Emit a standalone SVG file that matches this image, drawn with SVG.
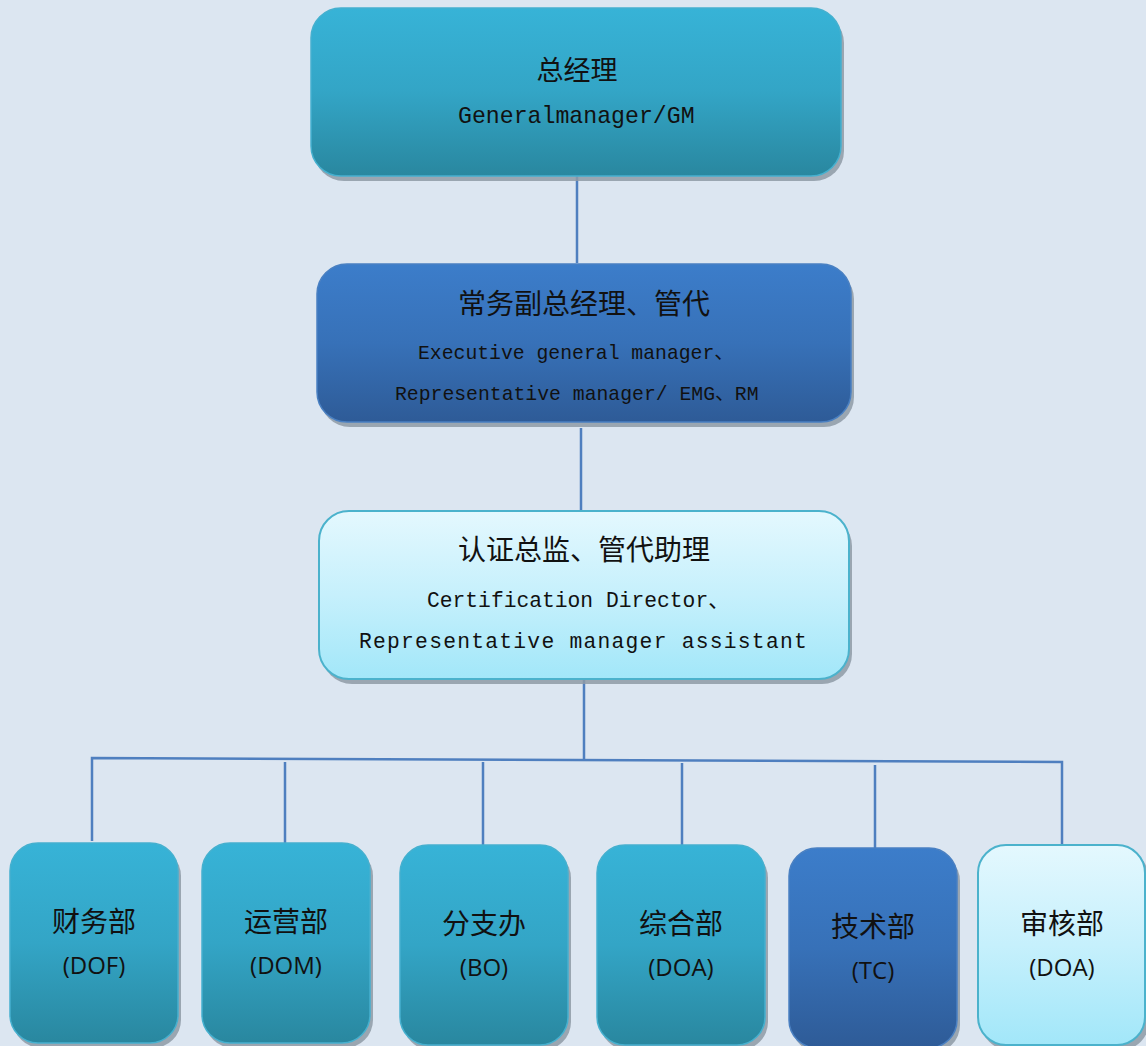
<svg xmlns="http://www.w3.org/2000/svg" width="1146" height="1046" viewBox="0 0 1146 1046">
<defs>
<linearGradient id="gTeal" x1="0" y1="0" x2="0" y2="1">
<stop offset="0" stop-color="#37b3d7"/><stop offset="0.5" stop-color="#33a5c6"/><stop offset="1" stop-color="#29879f"/>
</linearGradient>
<linearGradient id="gBlue" x1="0" y1="0" x2="0" y2="1">
<stop offset="0" stop-color="#3c7dca"/><stop offset="0.5" stop-color="#3771b8"/><stop offset="1" stop-color="#2e5b97"/>
</linearGradient>
<linearGradient id="gLight" x1="0" y1="0" x2="0" y2="1">
<stop offset="0" stop-color="#e4f8fe"/><stop offset="0.5" stop-color="#c6f0fc"/><stop offset="1" stop-color="#a2e7f9"/>
</linearGradient>
</defs>
<style>
.shadow{fill:#8e9aa6;opacity:0.85}
.teal{fill:url(#gTeal);stroke:#45b0cf;stroke-width:1.5}
.blue{fill:url(#gBlue);stroke:#4a80c2;stroke-width:1.5}
.light{fill:url(#gLight);stroke:#4bb2cc;stroke-width:2}
.cjk{font-family:"Noto Sans CJK SC",sans-serif;fill:#111;text-anchor:middle}
.cj{font-family:"Noto Sans CJK SC",sans-serif}
.mono{font-family:"Liberation Mono","DejaVu Sans Mono",monospace;fill:#111}
.lat{font-family:"Open Sans","Noto Sans","Liberation Sans",sans-serif;fill:#111;text-anchor:middle}
.conn{stroke:#4f7fbf;stroke-width:2.5;fill:none}
</style>
<rect width="1146" height="1046" fill="#dce6f1"/>
<g id="connectors">
<line class="conn" x1="577" y1="176" x2="577" y2="263"/>
<line class="conn" x1="581" y1="428" x2="581" y2="511"/>
<line class="conn" x1="584" y1="680" x2="584" y2="759"/>
<polyline class="conn" points="92,841 92,758 1062,762 1062,851"/>
<line class="conn" x1="285" y1="762" x2="285" y2="844"/>
<line class="conn" x1="483" y1="762" x2="483" y2="846"/>
<line class="conn" x1="682" y1="763" x2="682" y2="846"/>
<line class="conn" x1="875" y1="765" x2="875" y2="849"/>
</g>
<g id="gm">
<rect class="shadow" x="314" y="13" width="530" height="168" rx="30"/>
<rect class="teal" x="311" y="8" width="530" height="168" rx="30"/>
<text class="cjk" x="577" y="80" font-size="27">总经理</text>
<text class="mono" x="458" y="123" font-size="23.2">Generalmanager/GM</text>
</g>
<g id="emg">
<rect class="shadow" x="320" y="269" width="534" height="158" rx="30"/>
<rect class="blue" x="317" y="264" width="534" height="158" rx="30"/>
<text class="cjk" x="584" y="314" font-size="28">常务副总经理、管代</text>
<text class="mono" x="418" y="359" font-size="19.75">Executive general manager<tspan class="cj">、</tspan></text>
<text class="mono" x="395" y="400" font-size="19.75">Representative manager/ EMG<tspan class="cj">、</tspan>RM</text>
</g>
<g id="cd">
<rect class="shadow" x="322" y="516" width="530" height="168" rx="30"/>
<rect class="light" x="319" y="511" width="530" height="168" rx="30"/>
<text class="cjk" x="584" y="560" font-size="28">认证总监、管代助理</text>
<text class="mono" x="427" y="607" font-size="21.3">Certification Director<tspan class="cj">、</tspan></text>
<text class="mono" x="359" y="648" font-size="21.3" letter-spacing="1.25">Representative manager assistant</text>
</g>
<g id="dof">
<rect class="shadow" x="13" y="848" width="168" height="200" rx="28"/>
<rect class="teal" x="10" y="843" width="168" height="200" rx="28"/>
<text class="cjk" x="94" y="932" font-size="28">财务部</text>
<text class="lat" x="94" y="974" font-size="24">(DOF)</text>
</g>
<g id="dom">
<rect class="shadow" x="205" y="848" width="168" height="200" rx="28"/>
<rect class="teal" x="202" y="843" width="168" height="200" rx="28"/>
<text class="cjk" x="286" y="932" font-size="28">运营部</text>
<text class="lat" x="286" y="974" font-size="24">(DOM)</text>
</g>
<g id="bo">
<rect class="shadow" x="403" y="850" width="168" height="200" rx="28"/>
<rect class="teal" x="400" y="845" width="168" height="200" rx="28"/>
<text class="cjk" x="484" y="934" font-size="28">分支办</text>
<text class="lat" x="484" y="976" font-size="24">(BO)</text>
</g>
<g id="doa1">
<rect class="shadow" x="600" y="850" width="168" height="200" rx="28"/>
<rect class="teal" x="597" y="845" width="168" height="200" rx="28"/>
<text class="cjk" x="681" y="934" font-size="28">综合部</text>
<text class="lat" x="681" y="976" font-size="24">(DOA)</text>
</g>
<g id="tc">
<rect class="shadow" x="792" y="853" width="168" height="200" rx="28"/>
<rect class="blue" x="789" y="848" width="168" height="200" rx="28"/>
<text class="cjk" x="873" y="937" font-size="28">技术部</text>
<text class="lat" x="873" y="979" font-size="24">(TC)</text>
</g>
<g id="doa2">
<rect class="shadow" x="981" y="850" width="168" height="200" rx="28"/>
<rect class="light" x="978" y="845" width="167" height="200" rx="28"/>
<text class="cjk" x="1062" y="934" font-size="28">审核部</text>
<text class="lat" x="1062" y="976" font-size="24">(DOA)</text>
</g>
</svg>
